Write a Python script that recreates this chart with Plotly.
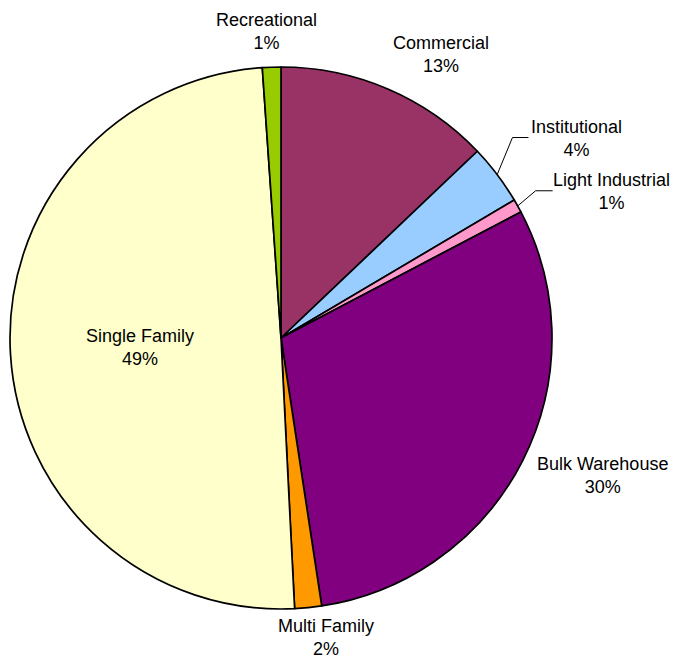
import math
import plotly.graph_objects as go

categories = ["Commercial", "Institutional", "Light Industrial", "Bulk Warehouse",
              "Multi Family", "Single Family", "Recreational"]
values = [12.9, 3.6, 0.8, 30.3, 1.6, 49.7, 1.1]
pct_labels = ["13%", "4%", "1%", "30%", "2%", "49%", "1%"]
colors = ["#993366", "#99CCFF", "#FF99CC", "#800080", "#FF9900", "#FFFFCC", "#99CC00"]

# label placement (layout only): distance from centre in radii, angular nudge in degrees
label_dist = [1.203, 1.317, 1.334, 1.291, 1.118, 0.521, 1.131]
label_nudge = [6.2, 3.1, 5.3, -3.6, -2.8, -0.3, -0.8]
# leader lines: (horizontal offset of line end from label centre, bend length) or None
leaders = [None, (-48.5, 16), (-59, 17), None, None, None, None]

W, H = 673, 661
CX, CY, R = 281, 338, 271
FONT = "Liberation Sans, Arial, sans-serif"


def px(x, y):
    return x / W, 1 - y / H


fig = go.Figure(go.Pie(
    labels=categories,
    values=values,
    textinfo="none",
    sort=False,
    direction="clockwise",
    rotation=0,
    marker=dict(colors=colors, line=dict(color="black", width=1.7)),
    domain=dict(x=[(CX - R) / W, (CX + R) / W], y=[1 - (CY + R) / H, 1 - (CY - R) / H]),
    hoverinfo="label+percent",
    showlegend=False,
))

total = sum(values)
cum = 0.0
annotations = []
shapes = []
for i, (cat, v, p) in enumerate(zip(categories, values, pct_labels)):
    mid = 360.0 * (cum + v / 2) / total
    cum += v
    th = math.radians(mid + label_nudge[i])
    lx = CX + label_dist[i] * R * math.sin(th)
    ly = CY - label_dist[i] * R * math.cos(th)
    ax, ay = px(lx, ly)
    annotations.append(dict(
        x=ax, y=ay, xref="paper", yref="paper", xanchor="center", yanchor="middle",
        text=f"{cat}<br>{p}", showarrow=False, align="center", borderpad=0,
        font=dict(family=FONT, size=18, color="black"),
    ))
    if leaders[i] is not None:
        dx_end, bend = leaders[i]
        tm = math.radians(mid)
        sx = CX + R * math.sin(tm)
        sy = CY - R * math.cos(tm)
        ex, ey = lx + dx_end, ly - 1
        bx, by = ex - bend, ey
        p0, p1, p2 = px(sx, sy), px(bx, by), px(ex, ey)
        shapes.append(dict(
            type="path", xref="paper", yref="paper",
            path=f"M {p0[0]},{p0[1]} L {p1[0]},{p1[1]} L {p2[0]},{p2[1]}",
            line=dict(color="black", width=1),
        ))

fig.update_layout(
    width=W, height=H,
    margin=dict(l=0, r=0, t=0, b=0),
    paper_bgcolor="white",
    plot_bgcolor="white",
    showlegend=False,
    annotations=annotations,
    shapes=shapes,
)
fig.write_html(
    "out.html",
    config={"displayModeBar": False},
    post_script="document.body.style.margin='0px';document.body.style.overflow='hidden';",
)
